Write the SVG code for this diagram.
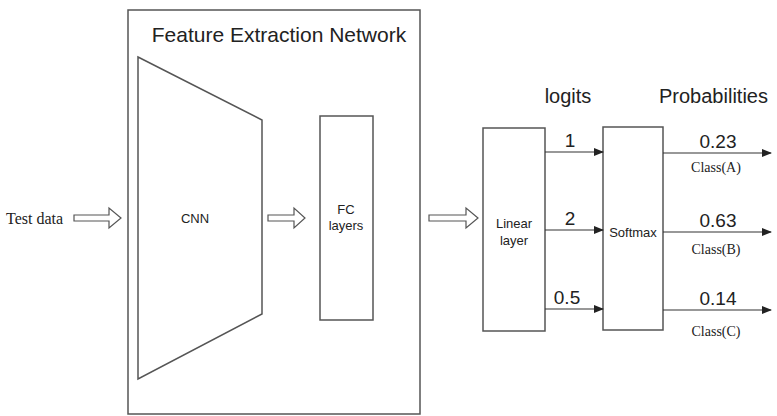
<svg xmlns="http://www.w3.org/2000/svg" width="777" height="416" viewBox="0 0 777 416">
<style>
.box{fill:none;stroke:#555;stroke-width:1.5}
.sans{font-family:"Liberation Sans",Arial,sans-serif;fill:#222}
.serif{font-family:"Liberation Serif","Times New Roman",serif;fill:#222}
.line{stroke:#333;stroke-width:1.2;fill:none}
.hollow{fill:#fff;stroke:#555;stroke-width:1.2}
.num{font-size:19px}
.cls{font-size:14px}
.small{font-size:13px}
</style>
<defs>
<marker id="ah" markerWidth="10" markerHeight="8" refX="9" refY="4" orient="auto" markerUnits="userSpaceOnUse">
<path d="M0,0 L10,4 L0,8 Z" fill="#222"/>
</marker>
</defs>
<rect width="777" height="416" fill="#fff"/>
<g id="feature-extraction-network">
<rect class="box" x="128" y="10" width="292" height="404"/>
<text class="sans" x="279" y="42" font-size="21" text-anchor="middle">Feature Extraction Network</text>
</g>
<g id="test-data">
<text class="serif" x="6" y="224" font-size="16">Test data</text>
</g>
<g id="cnn">
<polygon class="box" points="138,57 262,120 262,314 138,379"/>
<text class="sans small" x="195" y="223" text-anchor="middle">CNN</text>
</g>
<g id="fc-layers">
<rect class="box" x="320" y="116" width="53" height="204"/>
<text class="sans small" x="346" y="214" text-anchor="middle">FC</text>
<text class="sans small" x="346" y="230" text-anchor="middle">layers</text>
</g>
<g id="linear-layer">
<rect class="box" x="483" y="128" width="62" height="203"/>
<text class="sans small" x="514" y="228" text-anchor="middle">Linear</text>
<text class="sans small" x="514" y="245" text-anchor="middle">layer</text>
</g>
<g id="softmax">
<rect class="box" x="603" y="127" width="60" height="203"/>
<text class="sans small" x="633" y="237" text-anchor="middle">Softmax</text>
</g>
<g id="headers">
<text class="sans" x="568" y="103" font-size="20" text-anchor="middle">logits</text>
<text class="sans" x="659" y="103" font-size="20">Probabilities</text>
</g>
<g id="connectors">
<path class="hollow" d="M74,215 L109,215 L109,208 L121,218 L109,228 L109,221 L74,221 Z"/>
<path class="hollow" d="M268,215 L294,215 L294,208 L305,218 L294,228 L294,221 L268,221 Z"/>
<path class="hollow" d="M429,215 L466,215 L466,208 L478,218 L466,228 L466,221 L429,221 Z"/>
<line class="line" x1="545" y1="152" x2="603" y2="152" marker-end="url(#ah)"/>
<line class="line" x1="545" y1="230" x2="603" y2="230" marker-end="url(#ah)"/>
<line class="line" x1="545" y1="309" x2="603" y2="309" marker-end="url(#ah)"/>
<line class="line" x1="663" y1="153" x2="771" y2="153" marker-end="url(#ah)"/>
<line class="line" x1="663" y1="232" x2="771" y2="232" marker-end="url(#ah)"/>
<line class="line" x1="663" y1="310" x2="771" y2="310" marker-end="url(#ah)"/>
<text class="sans num" x="570" y="147" text-anchor="middle">1</text>
<text class="sans num" x="570" y="225" text-anchor="middle">2</text>
<text class="sans num" x="567" y="304" text-anchor="middle">0.5</text>
<text class="sans num" x="718" y="148" text-anchor="middle">0.23</text>
<text class="serif cls" x="716" y="172" text-anchor="middle">Class(A)</text>
<text class="sans num" x="718" y="227" text-anchor="middle">0.63</text>
<text class="serif cls" x="716" y="254" text-anchor="middle">Class(B)</text>
<text class="sans num" x="718" y="305" text-anchor="middle">0.14</text>
<text class="serif cls" x="716" y="336" text-anchor="middle">Class(C)</text>
</g>
</svg>
